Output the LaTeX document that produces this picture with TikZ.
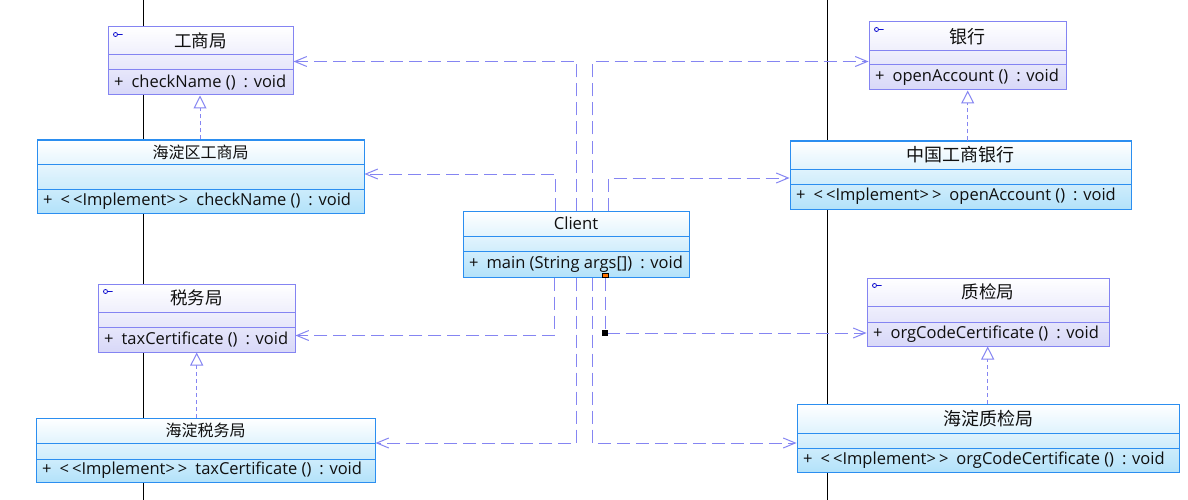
\documentclass[tikz,border=0pt]{standalone}
\usepackage{fontspec}
\setmainfont{Open Sans}
\newfontfamily\cjk{Noto Sans CJK SC}
\usetikzlibrary{arrows.meta,fit,calc}
\definecolor{ifborder}{HTML}{8484F2}
\definecolor{iffill}{HTML}{D8D8F8}
\definecolor{clborder}{HTML}{2B8EF0}
\definecolor{clfill}{HTML}{B3E2FA}
\definecolor{conn}{HTML}{8585F2}
\definecolor{txt}{HTML}{101010}
\definecolor{icon}{HTML}{1010D0}
\tikzset{
 iface/.style={draw=ifborder, line width=1pt, top color=white, bottom color=iffill, inner sep=0pt},
 cls/.style={draw=clborder, line width=1pt, top color=white, bottom color=clfill, inner sep=0pt},
 ifaceline/.style={draw=ifborder, line width=1pt},
 clsline/.style={draw=clborder, line width=1pt},
 dep/.style={draw=conn, line width=1pt, dash pattern=on 13pt off 6pt, -{Straight Barb[length=12pt,width=10pt]}},
 real/.style={draw=conn, line width=1pt, dash pattern=on 4pt off 3pt, -{Triangle[open,fill=white,length=13pt,width=13pt]}},
 meth/.style={anchor=west, inner sep=0pt, font=\fontsize{16.5}{19}\selectfont, text=txt},
 ttl/.style={inner sep=0pt, text=txt},
}
\newcommand\ubox[9]{%
 \node[#2, fit={(#3,#4)(#5,#6)}] (#1) {};
 \draw[#2line] (#3,#7) -- (#5,#7);
 \draw[#2line] (#3,#8) -- (#5,#8);
 \node[ttl] (#1-t) at ({(#3+#5)/2},{(#4+#7)/2}) {#9};
 \coordinate (#1-m) at ({#3+6},{(#8+#6)/2});
}
\newcommand\uicon[1]{%
 \draw[icon, line width=0.8pt] ([shift={(8,8)}]#1.north west) circle[radius=2pt] ++(2,0) -- ++(5,0);
}
\newcommand\gp{\hspace{8pt}}
\newcommand\impl{{<}\kern3pt{<}Implement{>}\kern3pt{>}}
\begin{document}
\begin{tikzpicture}[x=1pt,y=-1pt]
\useasboundingbox (0,0) rectangle (1188,500);
\fill[white] (0,0) rectangle (1188,500);
\draw[black, line width=1pt] (143,0) coordinate (l1) -- (143,500) coordinate (l2);
\draw[black, line width=1pt] (827,0) coordinate (r1) -- (827,500) coordinate (r2);

\ubox{gs}{iface}{108}{27}{293}{95}{55}{70}{\cjk\fontsize{17.5}{19}\selectfont 工商局}
\ubox{hdgs}{cls}{37}{140}{364}{213}{164}{189}{\cjk\fontsize{16}{18}\selectfont 海淀区工商局}
\ubox{yh}{iface}{869}{22}{1066}{90}{51}{65}{\cjk\fontsize{18}{20}\selectfont 银行}
\ubox{zggsyh}{cls}{790}{141}{1131}{209}{169}{184}{\cjk\fontsize{18}{20}\selectfont 中国工商银行}
\ubox{client}{cls}{463}{211}{689}{277}{236}{251}{\fontsize{16.7}{19}\selectfont Client}
\ubox{sw}{iface}{98}{284}{295}{352}{312}{327}{\cjk\fontsize{17.5}{19}\selectfont 税务局}
\ubox{hdsw}{cls}{36}{418}{375}{482}{443}{459}{\cjk\fontsize{16}{18}\selectfont 海淀税务局}
\ubox{zj}{iface}{867}{278}{1109}{346}{306}{322}{\cjk\fontsize{17.5}{19}\selectfont 质检局}
\ubox{hdzj}{cls}{797}{404}{1179}{472}{433}{448}{\cjk\fontsize{18}{20}\selectfont 海淀质检局}

\uicon{gs}
\uicon{yh}
\uicon{sw}
\uicon{zj}

\node[meth] (gs-mt) at (gs-m) {+\gp checkName ()\gp: void};
\node[meth] (hdgs-mt) at (hdgs-m) {+\gp\impl\gp checkName ()\gp: void};
\node[meth] (yh-mt) at (yh-m) {+\gp openAccount ()\gp: void};
\node[meth] (zggsyh-mt) at (zggsyh-m) {+\gp\impl\gp openAccount ()\gp: void};
\node[meth] (client-mt) at (client-m) {+\gp main (String args[])\gp: void};
\node[meth] (sw-mt) at (sw-m) {+\gp taxCertificate ()\gp: void};
\node[meth] (hdsw-mt) at (hdsw-m) {+\gp\impl\gp taxCertificate ()\gp: void};
\node[meth] (zj-mt) at (zj-m) {+\gp orgCodeCertificate ()\gp: void};
\node[meth] (hdzj-mt) at (hdzj-m) {+\gp\impl\gp orgCodeCertificate ()\gp: void};

% realizations
\draw[real] (200,0 |- hdgs.north) -- (200,0 |- gs.south);
\draw[real] (967.7,0 |- zggsyh.north) -- (967.7,0 |- yh.south);
\draw[real] (196.7,0 |- hdsw.north) -- (196.7,0 |- sw.south);
\draw[real] (987.7,0 |- hdzj.north) -- (987.7,0 |- zj.south);

% dependencies
\draw[dep] (555.5,0 |- client.north) |- (hdgs.east |- 0,174);
\draw[dep] (576.6,0 |- client.north) |- (gs.east |- 0,61.5);
\draw[dep] (592.7,0 |- client.north) |- (yh.west |- 0,61.5);
\draw[dep] (608,0 |- client.north) |- (zggsyh.west |- 0,178);
\draw[dep] (554.3,0 |- client.south) |- (sw.east |- 0,335.5);
\draw[dep] (576.7,0 |- client.south) |- (hdsw.east |- 0,443);
\draw[dep] (592.3,0 |- client.south) |- (hdzj.west |- 0,443);
\draw[dep] (605.3,0 |- client.south) |- (zj.west |- 0,333);

% selection handles
\node[draw=black, line width=0.6pt, fill=orange!90!red, minimum width=6pt, minimum height=4pt, inner sep=0pt] (mk1) at (605.3,275) {};
\node[fill=black, minimum size=6pt, inner sep=0pt] (mk2) at (605.3,332.5) {};
\end{tikzpicture}
\end{document}
